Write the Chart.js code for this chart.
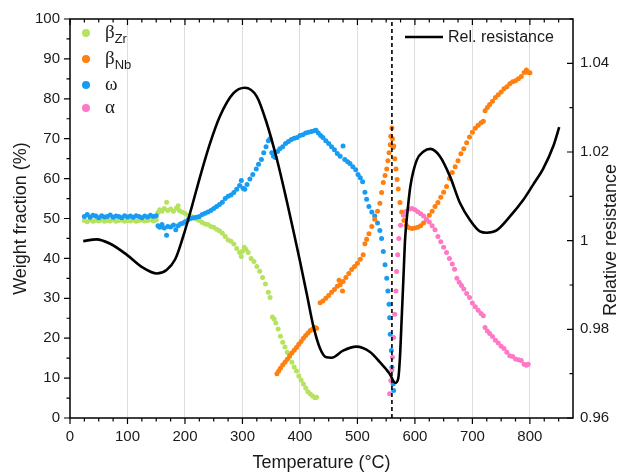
<!DOCTYPE html>
<html>
<head>
<meta charset="utf-8">
<script src="https://cdn.jsdelivr.net/npm/chart.js@4.4.1/dist/chart.umd.min.js"></script>
<style>
  html, body { margin: 0; padding: 0; background: #fff; }
  #wrap { width: 620px; height: 474px; position: relative; }
</style>
</head>
<body>
<div id="wrap"><canvas id="chart" width="620" height="474"></canvas></div>
<script>
/* ── DATA ─────────────────────────────────────────────── */
// weight fraction (%) vs temperature (°C), [T, W]
const betaZr = [
  [25,49.5],[30,49.2],[35,49.6],[40,49.3],[45,49.5],[50,49.4],[55,49.6],[60,49.3],[65,49.5],[70,49.4],
  [75,49.7],[80,49.3],[85,49.5],[90,49.6],[95,49.3],[100,49.5],[105,49.4],[110,49.6],[115,49.3],[120,49.5],
  [125,49.6],[130,49.4],[135,49.5],[140,49.7],[145,49.4],[150,49.6],[153,51.5],[156,52.2],[160,51.8],[164,52.5],
  [168,54.1],[170,52.0],[175,52.4],[180,51.8],[185,52.6],[188,53.2],[190,52.0],[195,51.6],[200,51.3],[205,50.8],
  [210,50.6],[215,50.2],[220,49.8],[225,49.5],[230,49.0],[235,48.6],[240,48.5],[245,48.0],[250,47.8],[255,47.3],
  [260,46.9],[265,46.3],[270,45.5],[275,44.6],[280,44.3],[285,43.6],[290,42.5],[295,41.5],[298,40.5],[300,41.8],
  [303,42.8],[306,42.3],[310,41.5],[315,40.0],[320,39.2],[325,38.0],[330,36.8],[335,35.2],[340,33.6],[345,31.5],
  [348,30.2],[352,25.3],[355,24.8],[358,23.8],[362,22.3],[366,20.5],[370,19.0],[374,17.8],[378,16.5],[382,15.2],
  [386,14.0],[390,12.8],[394,11.8],[398,10.5],[402,9.5],[406,8.5],[410,7.5],[414,6.6],[418,6.0],[422,5.5],
  [426,5.1],[429,5.2]
];
const betaNb = [
  [360,11.1],[363,11.8],[366,12.5],[370,13.3],[374,14.0],[378,14.7],[382,15.6],[386,16.3],[390,17.0],[394,17.7],
  [398,18.5],[402,19.2],[406,20.0],[410,20.7],[414,21.3],[418,21.9],[422,22.3],[426,22.7],[429,22.5],
  [435,28.9],[440,29.3],[445,30.0],[450,30.7],[455,31.5],[460,32.2],[465,33.0],[468,34.5],[470,33.4],[474,31.8],
  [475,34.2],[480,35.2],[485,36.2],[490,37.2],[495,38.0],[500,38.8],[505,39.8],[510,40.9],[513,43.7],[516,44.8],
  [520,46.2],[525,48.0],[530,49.8],[535,51.8],[539,53.8],[542,56.5],[545,59.0],[548,60.8],[551,62.4],[553,64.5],
  [555,66.5],[557,68.5],[558,70.6],[560,72.7],[561,70.0],[562,67.8],[563,68.2],[565,65.0],[567,62.4],[569,59.8],
  [571,57.4],[574,54.0],[577,51.6],[581,49.5],[585,48.3],[590,47.7],[595,47.5],[600,47.6],[605,47.8],[610,48.2],
  [615,48.9],[620,49.6],[625,50.8],[630,51.8],[635,53.0],[640,54.0],[645,55.3],[650,56.6],[655,58.0],[660,60.0],
  [665,61.5],[670,63.0],[675,64.5],[680,66.2],[685,67.5],[690,69.0],[695,70.4],[700,71.6],[705,72.6],[710,73.4],
  [715,74.0],[719,74.4],[722,77.0],[726,77.8],[730,78.6],[735,79.4],[740,80.3],[745,81.0],[750,81.7],[755,82.5],
  [760,83.0],[765,83.8],[770,84.3],[775,84.5],[780,85.0],[785,85.6],[790,86.6],[794,87.2],[797,86.6],[800,86.5]
];
const omega = [
  [25,50.5],[30,51.0],[35,50.3],[40,50.8],[45,50.6],[50,50.2],[55,50.7],[60,50.4],[65,50.5],[70,50.9],
  [75,50.3],[80,50.6],[85,50.5],[90,50.2],[95,50.7],[100,50.4],[105,50.6],[110,50.3],[115,50.7],[120,50.5],
  [125,50.2],[130,50.6],[135,50.4],[140,50.8],[145,50.5],[150,50.7],[153,48.2],[156,47.8],[160,48.5],[164,47.6],
  [168,45.8],[170,48.0],[175,47.9],[180,48.4],[184,47.2],[188,48.2],[192,48.6],[196,48.8],[200,49.2],[205,49.6],
  [210,50.0],[215,50.2],[220,50.3],[225,50.5],[230,51.0],[235,51.3],[240,51.6],[245,52.0],[250,52.5],[255,53.0],
  [260,53.5],[265,54.1],[270,55.0],[275,55.6],[280,55.9],[285,56.5],[290,57.3],[295,58.3],[298,59.5],[301,57.6],
  [304,57.3],[308,58.5],[313,59.9],[318,61.0],[324,62.4],[328,63.6],[333,64.8],[337,66.5],[341,68.0],[345,69.5],
  [348,70.0],[351,66.5],[354,65.6],[357,65.3],[361,66.8],[365,67.5],[370,68.0],[375,68.8],[380,69.3],[385,69.8],
  [390,70.1],[395,70.3],[400,70.8],[405,71.0],[410,71.4],[415,71.6],[420,71.8],[425,72.0],[428,72.1],[432,71.4],
  [436,70.8],[440,70.3],[445,69.5],[450,68.8],[455,68.0],[460,67.2],[465,66.3],[470,65.6],[475,68.2],[478,64.8],
  [483,64.2],[487,63.8],[492,63.0],[497,62.2],[501,61.0],[505,60.2],[509,59.2],[513,56.6],[516,54.8],[520,53.0],
  [525,51.6],[530,50.6],[535,48.9],[539,47.0],[542,45.0],[545,41.7],[548,38.4],[551,35.0],[553,31.8],[555,28.5],
  [556,25.1],[557,21.0],[559,16.9],[560,12.7],[562,8.5],[563,6.9]
];
const alpha = [
  [556,6.1],[558,9.4],[560,12.0],[561,15.2],[563,20.2],[565,26.0],[567,31.8],[568,36.7],[570,40.9],[572,45.0],
  [575,48.3],[580,50.8],[585,51.8],[590,52.4],[595,52.5],[600,52.2],[605,51.7],[610,51.2],[615,50.6],[620,49.8],
  [625,49.1],[630,48.2],[635,47.2],[640,45.5],[645,44.2],[650,42.8],[655,41.5],[660,40.0],[665,38.6],[669,37.3],
  [673,35.0],[677,34.0],[681,33.2],[685,32.3],[690,31.2],[695,30.2],[700,28.8],[705,27.9],[710,27.0],[715,26.2],
  [719,25.6],[722,22.7],[726,21.8],[730,21.2],[735,20.4],[740,19.5],[745,18.8],[750,18.0],[755,17.4],[760,16.5],
  [765,15.6],[770,15.4],[775,14.8],[780,14.6],[785,14.4],[790,13.5],[794,13.2],[797,13.5]
];

// relative resistance (right axis)
const resT = [23,46,70,99,127,151,168,183,197,212,226,243,261,284,304,325,342,360,377,390,
  400,412,423,435,446,455,475,498,522,539,556,566,571,574,577,580,583,588,592,603,
  615,627,643,661,678,696,713,725,742,765,788,806,823,841,851];
const resR = [0.9999,1.0003,0.9993,0.9968,0.9939,0.9926,0.9934,0.9958,1.0010,1.0077,
  1.0143,1.0217,1.0281,1.0332,1.0345,1.0325,1.0266,1.0183,1.0090,1.0014,
  0.9954,0.9879,0.9809,0.9757,0.9737,0.9736,0.9752,0.9761,0.9749,0.9726,
  0.9700,0.9679,0.9689,0.9737,0.9825,0.9915,1.0005,1.0077,1.0122,1.0181,
  1.0201,1.0207,1.0191,1.0145,1.0086,1.0046,1.0021,1.0018,1.0023,1.0054,
  1.0091,1.0127,1.0162,1.0214,1.0256];

const transitionT = 560;

/* ── STYLE ───────────────────────────────────────────── */
const COL = { zr: '#b5e35f', nb: '#ff7f0f', om: '#189cf3', al: '#ff78c6' };
const SANS = "'Liberation Sans', Arial, sans-serif";
const SERIF = "'Liberation Serif', 'DejaVu Serif', serif";

const pts = arr => arr.map(([x, y]) => ({ x, y }));
const scatterDs = (data, color, order) => ({
  data: pts(data), yAxisID: 'y', backgroundColor: color, borderWidth: 0,
  pointRadius: 2.5, pointHoverRadius: 2.5, order
});

/* ── DECORATION: frame, ticks, titles, legend ─────────── */
const decor = {
  id: 'decor',
  afterDraw(chart) {
    const { ctx, chartArea: a, scales: { x, y, y2 } } = chart;
    ctx.save();
    ctx.strokeStyle = '#000';
    ctx.lineWidth = 1.5;
    ctx.strokeRect(a.left, a.top, a.right - a.left, a.bottom - a.top);

    ctx.lineWidth = 1.2;
    ctx.beginPath();
    for (let v = 0; v <= 850; v += 25) {
      const px = x.getPixelForValue(v);
      const len = v % 100 === 0 ? 6 : 3.5;
      ctx.moveTo(px, a.bottom); ctx.lineTo(px, a.bottom + len);
      ctx.moveTo(px, a.top); ctx.lineTo(px, a.top + len);
    }
    for (let v = 0; v <= 100; v += 5) {
      const py = y.getPixelForValue(v);
      const len = v % 10 === 0 ? 6 : 3.5;
      ctx.moveTo(a.left, py); ctx.lineTo(a.left - len, py);
    }
    for (let k = 96; k <= 105; k++) {
      const py = y2.getPixelForValue(k / 100);
      const len = k % 2 === 0 ? 6 : 3.5;
      ctx.moveTo(a.right, py); ctx.lineTo(a.right - len, py);
    }
    ctx.stroke();

    // axis titles
    ctx.fillStyle = '#1a1a1a';
    ctx.font = `18px ${SANS}`;
    ctx.textAlign = 'center';
    ctx.textBaseline = 'middle';
    ctx.fillText('Temperature (°C)', (a.left + a.right) / 2, 463);
    ctx.save();
    ctx.translate(21, (a.top + a.bottom) / 2);
    ctx.rotate(-Math.PI / 2);
    ctx.fillText('Weight fraction (%)', 0, 0);
    ctx.restore();
    ctx.save();
    ctx.translate(611, 240);
    ctx.rotate(-Math.PI / 2);
    ctx.fillText('Relative resistance', 0, 0);
    ctx.restore();

    // legend: phases
    const items = [
      { c: COL.zr, g: 'β', sub: 'Zr', y: 33 },
      { c: COL.nb, g: 'β', sub: 'Nb', y: 59 },
      { c: COL.om, g: 'ω', sub: '', y: 85 },
      { c: COL.al, g: 'α', sub: '', y: 108 }
    ];
    ctx.textAlign = 'left';
    items.forEach(it => {
      ctx.fillStyle = it.c;
      ctx.beginPath(); ctx.arc(86, it.y, 4, 0, Math.PI * 2); ctx.fill();
      ctx.fillStyle = '#1a1a1a';
      ctx.font = `19px ${SERIF}`;
      ctx.textBaseline = 'middle';
      ctx.fillText(it.g, 105, it.y);
      if (it.sub) {
        const w = ctx.measureText(it.g).width;
        ctx.font = `13px ${SANS}`;
        ctx.fillText(it.sub, 105 + w, it.y + 6);
      }
    });

    // legend: resistance
    ctx.strokeStyle = '#000';
    ctx.lineWidth = 2.5;
    ctx.beginPath(); ctx.moveTo(405, 37); ctx.lineTo(443, 37); ctx.stroke();
    ctx.fillStyle = '#1a1a1a';
    ctx.font = `16px ${SANS}`;
    ctx.textBaseline = 'middle';
    ctx.fillText('Rel. resistance', 448, 38);
    ctx.restore();
  }
};

/* ── CHART ───────────────────────────────────────────── */
new Chart(document.getElementById('chart').getContext('2d'), {
  type: 'scatter',
  data: {
    datasets: [
      {
        data: [{ x: transitionT, y: 0 }, { x: transitionT, y: 100 }],
        yAxisID: 'y', showLine: true, pointRadius: 0, borderColor: '#000',
        borderWidth: 1.6, borderDash: [4, 3], order: -1
      },
      {
        data: resT.map((t, i) => ({ x: t, y: resR[i] })),
        yAxisID: 'y2', showLine: true, pointRadius: 0, borderColor: '#000',
        borderWidth: 2.6, cubicInterpolationMode: 'monotone', order: 0
      },
      scatterDs(betaZr, COL.zr, 4),
      scatterDs(omega, COL.om, 3),
      scatterDs(betaNb, COL.nb, 2),
      scatterDs(alpha, COL.al, 1)
    ]
  },
  options: {
    responsive: false,
    animation: false,
    layout: { padding: { top: 15, right: 0, left: 0, bottom: 0 } },
    plugins: { legend: { display: false }, tooltip: { enabled: false } },
    scales: {
      x: {
        type: 'linear', min: 0, max: 875,
        afterFit: s => { s.height = 56; },
        border: { display: false },
        grid: {
          drawTicks: false,
          color: c => (c.tick && c.tick.value > 0 && c.tick.value <= 800) ? '#dedede' : 'rgba(0,0,0,0)',
          lineWidth: 1
        },
        ticks: {
          stepSize: 100, includeBounds: false, padding: 10, color: '#1a1a1a',
          font: { size: 15, family: SANS }, maxRotation: 0,
          callback: v => v <= 800 ? v : ''
        }
      },
      y: {
        position: 'left', min: 0, max: 100,
        afterFit: s => { s.width = 70; },
        border: { display: false },
        grid: { display: false, drawTicks: false },
        ticks: {
          stepSize: 10, padding: 10, color: '#1a1a1a',
          font: { size: 15, family: SANS }
        }
      },
      y2: {
        position: 'right', min: 0.96, max: 1.05,
        afterFit: s => { s.width = 47; },
        border: { display: false },
        grid: { display: false, drawTicks: false },
        ticks: {
          stepSize: 0.02, includeBounds: false, padding: 7, color: '#1a1a1a',
          font: { size: 15, family: SANS },
          callback: v => String(+v.toFixed(2))
        }
      }
    }
  },
  plugins: [decor]
});
</script>
</body>
</html>
